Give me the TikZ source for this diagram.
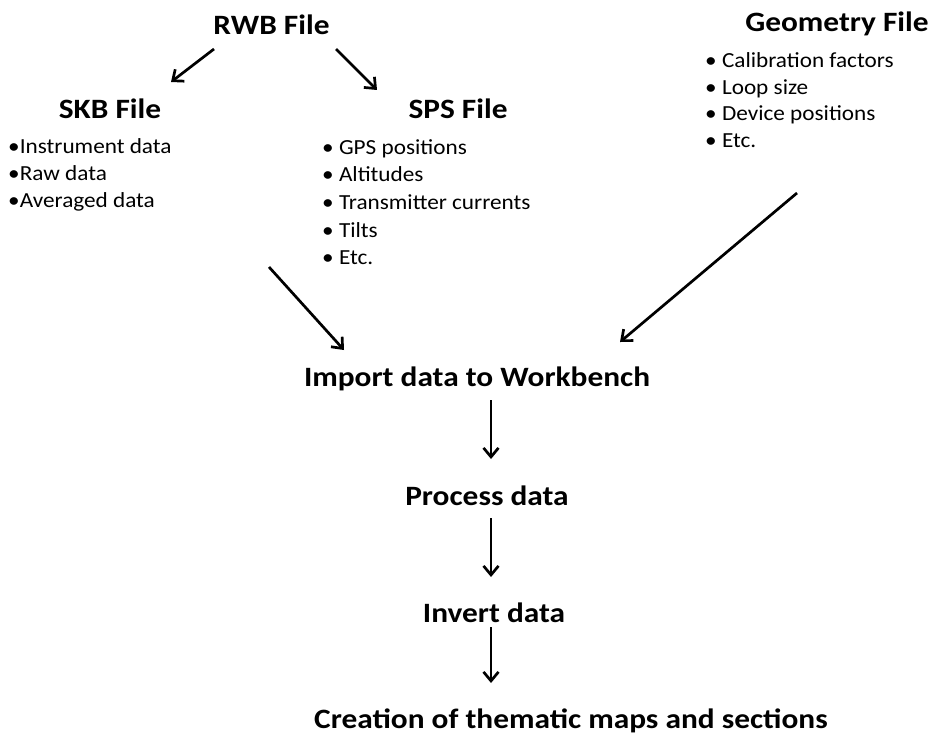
\documentclass[tikz,border=0pt]{standalone}
\usepackage{fontspec}
\setmainfont{Carlito}
\usetikzlibrary{arrows.meta,calc}

% slightly widened lettering for headings and list items
\newcommand\widetext[1]{\scalebox{1.12}[1]{#1}}
\newcommand\widelist[1]{\scalebox{1.08}[1]{#1}}

\tikzset{
  title/.style={anchor=base, inner sep=0pt, font=\fontsize{28}{34}\selectfont\bfseries},
  item/.style={anchor=base west, inner sep=0pt, font=\fontsize{21.5}{26}\selectfont},
  arr/.style={line width=2.7pt, -{Straight Barb[length=9pt,width=15pt,line width=2.7pt]}},
}

\begin{document}
\begin{tikzpicture}[x=1pt,y=-1pt]
  \useasboundingbox (0,0) rectangle (933,733);

  % headings
  \node[title] (rwb)  at (271.5,35) {\widetext{RWB File}};
  \node[title] (skb)  at (110,118)  {\widetext{SKB File}};
  \node[title] (sps)  at (458,118)  {\widetext{SPS File}};
  \node[title] (geo)  at (837,32)   {\widetext{Geometry File}};
  \node[title] (imp)  at (477,386)  {\widetext{Import data to Workbench}};
  \node[title] (proc) at (487,505)  {\widetext{Process data}};
  \node[title] (inv)  at (494,622)  {\widetext{Invert data}};
  \node[title] (cre)  at (571,728)  {\widetext{Creation of thematic maps and sections}};

  % contents of the SKB file
  \node[item] (skb1) at (8,153) {\widelist{•Instrument data}};
  \node[item] (skb2) at (8,180) {\widelist{•Raw data}};
  \node[item] (skb3) at (8,207) {\widelist{•Averaged data}};

  % contents of the SPS file
  \node[item] (sps1) at (322,154) {\widelist{• GPS positions}};
  \node[item] (sps2) at (322,181) {\widelist{• Altitudes}};
  \node[item] (sps3) at (322,209) {\widelist{• Transmitter currents}};
  \node[item] (sps4) at (322,237) {\widelist{• Tilts}};
  \node[item] (sps5) at (322,264) {\widelist{• Etc.}};

  % contents of the geometry file
  \node[item] (geo1) at (705,68)  {\widelist{• Calibration factors}};
  \node[item] (geo2) at (705,95)  {\widelist{• Loop size}};
  \node[item] (geo3) at (705,121) {\widelist{• Device positions}};
  \node[item] (geo4) at (705,147) {\widelist{• Etc.}};

  % connectors
  \draw[arr] ($(rwb.base)+(-57.5,14)$) -- ($(skb.base)+(61,-36)$);
  \draw[arr] ($(rwb.base)+(64.5,14)$)  -- ($(sps.base)+(-81,-28)$);
  \draw[arr] ($(sps.base)+(-189,149)$) -- ($(imp.base)+(-133,-36)$);
  \draw[arr] ($(geo.base)+(-40,161)$)  -- ($(imp.base)+(143,-44)$);
  \draw[arr] ($(imp.base)+(14,14)$)  -- ($(proc.base)+(4,-46)$);
  \draw[arr] ($(proc.base)+(4,13)$)  -- ($(inv.base)+(-3,-45)$);
  \draw[arr] ($(inv.base)+(-3,5)$)   -- ($(cre.base)+(-80,-45)$);
\end{tikzpicture}
\end{document}
